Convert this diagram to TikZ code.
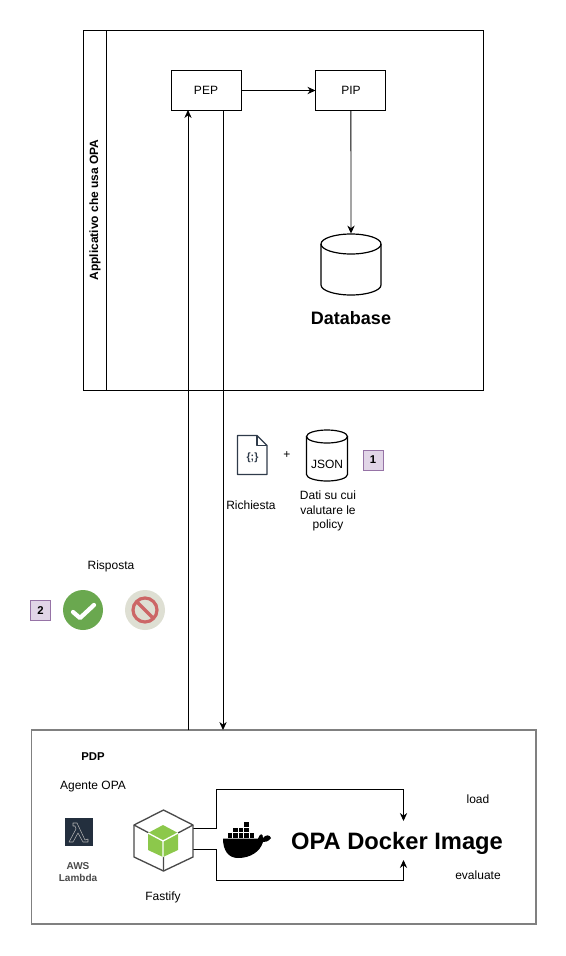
\documentclass[tikz,border=0pt]{standalone}
\usepackage{fontspec}
\setmainfont{Liberation Sans}
\usepackage{xcolor}
\usetikzlibrary{positioning, arrows.meta}
\definecolor{tagfill}{HTML}{E1D5E7}
\definecolor{tagline}{HTML}{9673A6}
\definecolor{okgreen}{HTML}{6AA84F}
\definecolor{nogrey}{HTML}{DEDFD3}
\definecolor{nored}{HTML}{CC6666}
\definecolor{lambdabg}{HTML}{232F3E}
\definecolor{nodegreen}{HTML}{8CC84B}
\definecolor{hexgrey}{HTML}{4A4A4A}
\definecolor{docline}{HTML}{2F3B4A}

% cx, top, bottom, rx, ry
\newcommand{\dbicon}[5]{
  \pgfmathsetmacro{\dbl}{#1-#4}
  \pgfmathsetmacro{\dbr}{#1+#4}
  \pgfmathsetmacro{\dbt}{#2+#5}
  \pgfmathsetmacro{\dbb}{#3-#5}
  \pgfmathsetmacro{\dbc}{#3-0.45*#5}
  \pgfmathsetmacro{\dbm}{0.55*#4}
  \draw[line width=0.9pt] (#1,\dbt) ellipse ({#4} and {#5});
  \draw[line width=0.9pt] (\dbl,\dbt) -- (\dbl,\dbb) .. controls (\dbl,\dbc) and (#1-\dbm,#3) .. (#1,#3)
    .. controls (#1+\dbm,#3) and (\dbr,\dbc) .. (\dbr,\dbb) -- (\dbr,\dbt);
}

\begin{document}
\begin{tikzpicture}[
  x=0.75pt, y=-0.75pt,
  every node/.style={font=\fontsize{9}{10.9}\selectfont, inner sep=0pt, align=center},
  box/.style={draw, fill=white, line width=0.7pt, minimum width=52.5pt, minimum height=29.5pt},
  tagbox/.style={draw=tagline, fill=tagfill, line width=0.6pt, font=\fontsize{8.5}{10}\selectfont\bfseries},
  flow/.style={-{Stealth[length=6pt, width=5.5pt]}, line width=0.7pt}
]
\useasboundingbox (0,0) rectangle (566,956);

% Applicativo
\node[draw, line width=0.7pt, minimum width=300pt, minimum height=270pt] (app) at (283.5,210) {};
\node[draw, line width=0.7pt, minimum width=17pt, minimum height=270pt] (appstrip) at (95,210) {};
\node[rotate=90, font=\fontsize{9}{10}\selectfont\bfseries] (applabel) at (95,210) {Applicativo che usa OPA};

\node[box] (pep) at (206,90.5) {PEP};
\node[box, right=55.5pt of pep] (pip) {PIP};
\node[minimum width=45pt, minimum height=46pt] (database) at (351,264.5) {};
\dbicon{351}{234}{295}{30}{10}
\node[font=\fontsize{13.5}{16}\selectfont\bfseries] (dblabel) at (351,318) {Database};

% PDP
\node[draw=gray, line width=1pt, minimum width=378.5pt, minimum height=145.5pt] (pdp) at (283.5,827) {};
\node[font=\fontsize{8.5}{10}\selectfont\bfseries] (pdplabel) at (93,757) {PDP};
\node (agente) at (93,787) {Agente OPA};
\node[fill=lambdabg, minimum size=21pt] (lambda) at (78.5,832) {};
\draw[gray!60!white, line width=0.4pt, line join=round] (73,823) -- (77,823) -- (85,840) -- (88,839) -- (88,842) -- (83,842) -- (78,833) -- (73,842) -- (69,842) -- (76,829) -- (75,826) -- (73,826) -- cycle;
\node[text=hexgrey, font=\fontsize{7.5}{8.6}\selectfont\bfseries] (aws) at (78,872) {AWS\\Lambda};
\node (fastify) at (163,897) {Fastify};
\node[font=\fontsize{17.8}{20}\selectfont\bfseries] (opa) at (397,843.5) {OPA Docker Image};
\node (load) at (478,799) {load};
\node (evaluate) at (478,875) {evaluate};

% flussi
\coordinate (pepin) at (188,110);
\coordinate (pepout) at (223,110);
\coordinate (pdpout) at (188,730);
\coordinate (pdpin) at (223,730);
\coordinate (hexup) at (193,828.5);
\coordinate (hexdown) at (193,849);
\coordinate (loadend) at (403.5,821);
\coordinate (evalend) at (403.5,860);
\draw[flow] (pep) -- (pip);
\draw[flow] (pip) -- (database.north);
\draw[flow] (pdpout) -- (pepin);
\draw[flow] (pepout) -- (pdpin);
\draw[flow] (hexup) -- (216.5,828.5) -- (216.5,789) -- (403.5,789) -- (loadend);
\draw[flow] (hexdown) -- (216.5,849) -- (216.5,880) -- (403.5,880) -- (evalend);

% richiesta
\draw[docline, line width=1pt, line join=round] (237.5,435.5) -- (257,435.5) -- (267,445.5) -- (267,474.5) -- (237.5,474.5) -- cycle;
\draw[docline, line width=1pt, line join=round] (257,435.5) -- (257,445.5) -- (267,445.5);
\node[text=docline, font=\fontsize{8}{9}\selectfont\bfseries] (docglyph) at (252.5,457.5) {\{;\}};
\node (plus) at (287,455) {+};
\dbicon{327}{430}{481}{20.5}{6.5}
\node[minimum width=30pt, minimum height=38pt] (json) at (327,455.5) {};
\node (jsonlabel) at (327,464) {JSON};
\node[tagbox, minimum size=15pt] (tagone) at (373,460) {1};
\node (richiesta) at (251,505) {Richiesta};
\node (dati) at (328,511) {Dati su cui\\valutare le\\policy};

% risposta
\node (risposta) at (111,566) {Risposta};
\node[tagbox, minimum size=15pt] (tagtwo) at (40.5,610.5) {2};
\node[circle, fill=okgreen, minimum size=30pt] (ok) at (83,610) {};
\draw[white, line width=3.2pt, line cap=round, line join=round] (73,612) -- (80,618) -- (94,605);
\node[circle, fill=nogrey, minimum size=30pt] (no) at (145,610) {};
\draw[nored, line width=2.4pt] (145,610) circle (12);
\draw[nored, line width=2.4pt] (137,602) -- (153,618);

% fastify
\draw[hexgrey, line width=1pt, line join=round] (163.5,810) -- (193,825) -- (193,857) -- (163.5,871) -- (134,857) -- (134,825) -- cycle;
\draw[hexgrey, line width=1pt] (134,825) -- (149,833) (193,825) -- (178,833) (163.5,871) -- (163.5,856);
\fill[nodegreen] (163,825) -- (178,833) -- (178,850) -- (163,857) -- (148,850) -- (148,833) -- cycle;
\draw[white, line width=1pt] (148,833) -- (163,841) -- (178,833) (163,841) -- (163,857);

% docker
\fill[black] (223,838.5) -- (258,838.5) .. controls (260,833) and (263,833) .. (263,838) .. controls (266,834) and (270,835) .. (271,838) .. controls (268,842) and (265,842) .. (263,842) .. controls (260,852) and (250,858) .. (238,858) .. controls (228,858) and (223,850) .. (223,838.5) -- cycle;
\foreach \bx in {227.5,233,238.5,244,249.5} \fill (\bx,833) rectangle +(4.7,4.7);
\foreach \bx in {233,238.5,244} \fill (\bx,827.7) rectangle +(4.7,4.7);
\fill (244,822.4) rectangle +(4.7,4.7);
\end{tikzpicture}
\end{document}
